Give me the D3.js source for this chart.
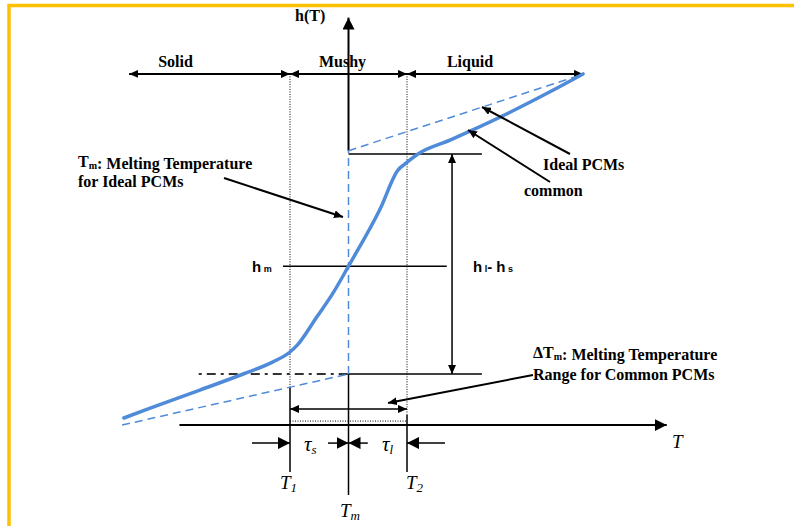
<!DOCTYPE html>
<html>
<head>
<meta charset="utf-8">
<script src="https://cdn.jsdelivr.net/npm/d3@7"></script>
<style>
  body { margin: 0; background: #fff; }
</style>
</head>
<body>
<svg id="chart" width="794" height="526"></svg>
<script>
// key temperatures (T) and enthalpies (h), normalised units
var T1 = -1, Tm = 0, T2 = 1;
var hs = 0, hm = 0.49, hl = 1;

// common PCM curve, [T, h]
var commonCurve = [[-3.84, -0.20], [-3.39, -0.155], [-2.54, -0.073], [-1.80, 0], [-1.29, 0.055],
    [-1.0, 0.10], [-0.88, 0.13], [-0.54, 0.26], [-0.26, 0.37], [0, 0.49],
    [0.54, 0.75], [0.846, 0.927], [0.966, 0.955], [1.188, 1.0],
    [1.735, 1.063], [2.077, 1.104], [2.761, 1.19], [3.444, 1.283], [4.009, 1.364]];

// ideal PCM: linear solid branch, jump at Tm, linear liquid branch
var idealSolid = [[-3.87, -0.232], [0, 0]];
var idealJump = [[0, 0], [0, 1.015]];
var idealLiquid = [[0, 1.015], [3.92, 1.355]];

// phase bands along the top
var phases = ["Solid", "Mushy", "Liquid"];
var phaseFrom = [-3.75, T1, T2];
var phaseTo = [T1, T2, 4.01];

var svg = d3.select("#chart");

// set the ranges
var x = d3.scaleLinear().domain([T1, T2]).range([290, 407]);
var y = d3.scaleLinear().domain([hs, hl]).range([374, 154]);

var serif = "'Liberation Serif','Times New Roman',serif";
var sans = "'Liberation Sans',Arial,sans-serif";

// arrow heads
var defs = svg.append("defs");
function marker(id, len, w) {
    defs.append("marker")
        .attr("id", id)
        .attr("markerUnits", "userSpaceOnUse")
        .attr("viewBox", "0 " + (-w) + " " + len + " " + (2 * w))
        .attr("refX", len).attr("refY", 0)
        .attr("markerWidth", len).attr("markerHeight", 2 * w)
        .attr("orient", "auto-start-reverse")
        .append("path")
        .attr("d", "M0," + (-w) + "L" + len + ",0L0," + w + "Z")
        .attr("fill", "#000");
}
marker("ah", 9, 4);
marker("ahBig", 12, 6);

// frame
svg.append("path")
    .attr("d", "M9,526V5.5H794")
    .attr("fill", "none")
    .attr("stroke", "#FFC000")
    .attr("stroke-width", 3.5);

var g = svg.append("g");

function seg(t1, h1, t2, h2) {
    return g.append("line")
        .attr("x1", x(t1)).attr("y1", y(h1))
        .attr("x2", x(t2)).attr("y2", y(h2))
        .attr("stroke", "#000")
        .attr("stroke-width", 1.5);
}

// dotted phase boundaries
seg(T1, 1.364, T1, -0.059).attr("stroke-width", 1).attr("stroke-dasharray", "1,1.5");
seg(T2, 1.364, T2, -0.186).attr("stroke-width", 1).attr("stroke-dasharray", "1,1.5");
seg(T1, -0.214, T2, -0.214).attr("stroke-width", 1).attr("stroke-dasharray", "1,1.5");

// tick lines at T1, Tm, T2
seg(T1, -0.059, T1, -0.445);
seg(T2, -0.186, T2, -0.445);
seg(Tm, hs, Tm, -0.55);

// h axis
seg(Tm, 1.015, Tm, 1.62).attr("stroke-width", 2).attr("marker-end", "url(#ahBig)");
// T axis
seg(-2.89, -0.232, 5.44, -0.232).attr("stroke-width", 2).attr("marker-end", "url(#ahBig)");

// phase arrows, label nudges in px
var phaseNudge = [-34, -6, -25];
phases.forEach(function(p, i) {
    seg(phaseFrom[i], 1.364, phaseTo[i], 1.364)
        .attr("stroke-width", 2)
        .attr("marker-start", "url(#ah)")
        .attr("marker-end", "url(#ah)");
    g.append("text")
        .attr("x", x((phaseFrom[i] + phaseTo[i]) / 2) + phaseNudge[i])
        .attr("y", 67)
        .attr("text-anchor", "middle")
        .attr("font-family", serif).attr("font-weight", "bold").attr("font-size", 16)
        .text(p);
});

// enthalpy levels
seg(Tm, hl, 2.28, hl);
seg(-1.12, hm, 1.68, hm);
seg(-2.56, hs, Tm, hs).attr("stroke", "#333").attr("stroke-width", 2).attr("stroke-dasharray", "3,5,9,5");
seg(Tm, hs, 2.28, hs);

// latent heat arrow
seg(1.77, hs, 1.77, hl).attr("marker-start", "url(#ah)").attr("marker-end", "url(#ah)");

// melting range arrow
seg(T1, -0.159, T2, -0.159).attr("marker-start", "url(#ah)").attr("marker-end", "url(#ah)");

// tau arrows
seg(-1.65, -0.314, T1, -0.314).attr("marker-end", "url(#ahBig)");
seg(-0.35, -0.314, Tm, -0.314).attr("marker-end", "url(#ahBig)");
seg(0.33, -0.314, Tm, -0.314).attr("marker-end", "url(#ahBig)");
seg(1.65, -0.314, T2, -0.314).attr("marker-end", "url(#ahBig)");

// curves
var line = d3.line()
    .x(function(d) { return x(d[0]); })
    .y(function(d) { return y(d[1]); });

[idealSolid, idealJump, idealLiquid].forEach(function(d) {
    g.append("path")
        .datum(d)
        .attr("d", line)
        .attr("fill", "none")
        .attr("stroke", "#4F8BD8")
        .attr("stroke-width", 1.5)
        .attr("stroke-dasharray", "8,5");
});

g.append("path")
    .datum(commonCurve)
    .attr("d", line.curve(d3.curveMonotoneX))
    .attr("fill", "none")
    .attr("stroke", "#4F8BD8")
    .attr("stroke-width", 3.5)
    .attr("stroke-linecap", "round");

// annotation leaders
function leader(x1, y1, x2, y2) {
    g.append("line")
        .attr("x1", x1).attr("y1", y1).attr("x2", x2).attr("y2", y2)
        .attr("stroke", "#000").attr("stroke-width", 2)
        .attr("marker-end", "url(#ah)");
}
leader(224, 178, 343, 217);
leader(570, 154, 482, 107);
leader(550, 182, 468, 130);
leader(533, 375, 388, 403);

// labels
function label(px, py, font, size, parts, opts) {
    var t = g.append("text")
        .attr("x", px).attr("y", py)
        .attr("font-family", font)
        .attr("font-size", size)
        .attr("font-weight", opts && opts.bold ? "bold" : "normal")
        .attr("font-style", opts && opts.italic ? "italic" : "normal");
    parts.forEach(function(p) {
        if (typeof p === "string") {
            t.append("tspan").text(p);
        } else {
            t.append("tspan").attr("font-size", p.size).attr("dy", p.dy).text(p.s);
            if (p.back) t.append("tspan").attr("dy", -p.dy).text("");
        }
    });
    return t;
}

label(295, 21, serif, 16, ["h(T)"], {bold: true});

label(78, 167, serif, 16, ["T", {s: "m", size: 10, dy: 2, back: true}, ": Melting Temperature"], {bold: true});
label(78, 187, serif, 16, ["for Ideal PCMs"], {bold: true});

label(543, 170, serif, 16, ["Ideal PCMs"], {bold: true});
label(524, 196, serif, 16, ["common"], {bold: true});

label(533, 358, serif, 16, ["\u0394T", {s: "m", size: 10, dy: 2, back: true}, ": Melting Temperature"], {bold: true});
label(533, 380, serif, 16, ["Range for Common PCMs"], {bold: true});

label(252, 272, sans, 15, ["h", {s: " m", size: 9, dy: 0}], {bold: true});
label(473, 272, sans, 15, ["h", {s: " l", size: 9, dy: 0}, "-  h", {s: " s", size: 9, dy: 0}], {bold: true});

label(304, 451, serif, 21, ["\u03C4", {s: "s", size: 13, dy: 3}], {italic: true});
label(382, 451, serif, 21, ["\u03C4", {s: "l", size: 13, dy: 3}], {italic: true});

label(280, 489, serif, 19, ["T", {s: "1", size: 13, dy: 3}], {italic: true});
label(406, 489, serif, 19, ["T", {s: "2", size: 13, dy: 3}], {italic: true});
label(340, 517, serif, 19, ["T", {s: "m", size: 13, dy: 3}], {italic: true});
label(672, 448, serif, 19, ["T"], {italic: true});
</script>
</body>
</html>
